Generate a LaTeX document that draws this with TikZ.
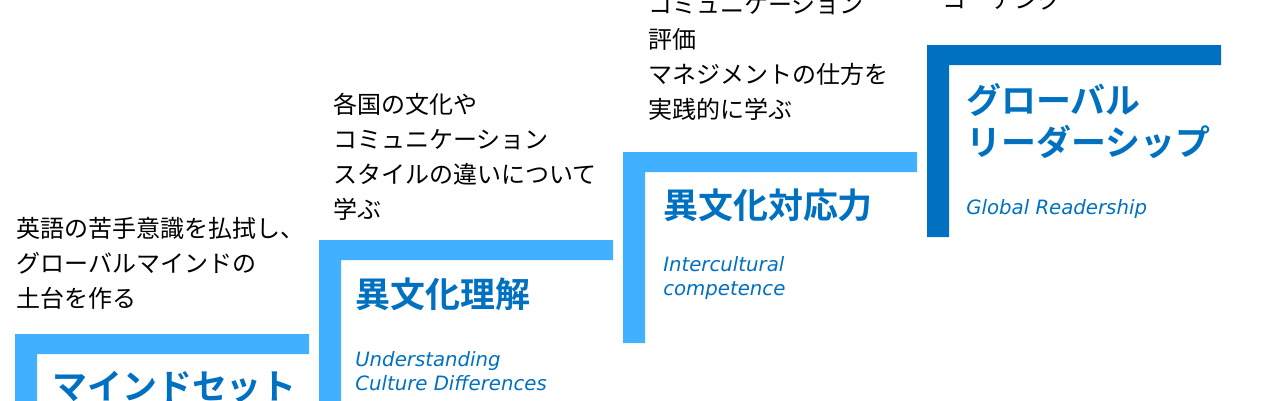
\documentclass[tikz,border=0pt]{standalone}
\usepackage{fontspec}
\setmainfont{Noto Sans CJK JP}[BoldFont={Noto Sans CJK JP Bold}]
\newfontfamily\subfont{DejaVu Sans}
\usepackage{tikz}

\definecolor{lightblue}{RGB}{64,176,255}
\definecolor{darkblue}{RGB}{0,112,192}

\begin{document}
\begin{tikzpicture}[x=0.75pt,y=-0.75pt,
	stepdesc/.style={anchor=north west,inner sep=0pt,align=left,font=\fontsize{18}{26.3}\selectfont},
	steptitle/.style={anchor=north west,inner sep=0pt,align=left,text=darkblue,font=\fontsize{26.2}{31.5}\selectfont\bfseries},
	stepsub/.style={anchor=north west,inner sep=0pt,align=left,text=darkblue,font=\subfont\itshape\fontsize{14.8}{18.3}\selectfont}]
	\useasboundingbox (0,0) rectangle (1280,400);
	\clip (0,0) rectangle (1280,400);

	% Draw the steps
	\foreach \l/\t/\b/\c in {15/334/525/lightblue, 319/240/431/lightblue, 623/152/343/lightblue, 927/45/237/darkblue}
		\fill[\c] (\l,\t) -- (\l+294,\t) -- (\l+294,\t+20) -- (\l+22,\t+20) -- (\l+22,\b) -- (\l,\b) -- cycle;

	% Step 1
	\node[stepdesc] (desc1) at (16,217) {英語の苦手意識を払拭し、\\グローバルマインドの\\土台を作る};
	\node[steptitle] (title1) at (52,371) {マインドセット};

	% Step 2
	\node[stepdesc] (desc2) at (333,93) {各国の文化や\\コミュニケーション\\スタイルの違いについて\\学ぶ};
	\node[steptitle] (title2) at (355,278) {異文化理解};
	\node[stepsub] (sub2) at (355,351) {Understanding\\Culture Differences};

	% Step 3
	\node[stepdesc] (desc3) at (648,-6) {コミュニケーション\\評価\\マネジメントの仕方を\\実践的に学ぶ};
	\node[steptitle] (title3) at (663,189) {異文化対応力};
	\node[stepsub] (sub3) at (663,256) {Intercultural\\competence};

	% Step 4
	\node[stepdesc] (desc4) at (942,-12) {コーチング};
	\node[steptitle] (title4) at (966,83) {グローバル\\リーダーシップ};
	\node[stepsub] (sub4) at (966,199) {Global Readership};
\end{tikzpicture}
\end{document}
